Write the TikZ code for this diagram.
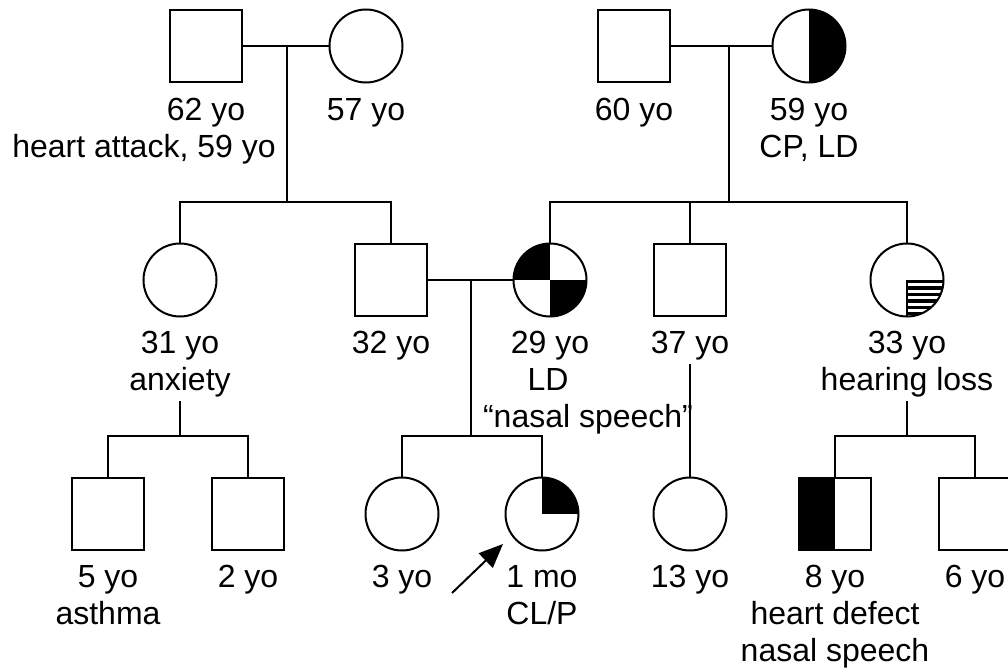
\documentclass[tikz,border=0pt]{standalone}
\usepackage{fontspec}
\setmainfont{Liberation Sans}
\usetikzlibrary{arrows.meta, positioning}

\begin{document}
\begin{tikzpicture}[
  x=0.5pt, y=-0.5pt,
  line width=1pt,
  font=\fontsize{16}{18.5}\selectfont,
  male/.style={draw, minimum size=36pt, inner sep=0pt, fill=white},
  female/.style={draw, circle, minimum size=36.5pt, inner sep=0pt, fill=white},
  txt/.style={anchor=base, inner sep=1pt, text height=12pt, text depth=4pt},
  arr/.style={-{Triangle[length=12pt, width=10pt]}, line width=1pt},
  halfright/.style={path picture={\fill[black] (path picture bounding box.north) rectangle (path picture bounding box.south east);}},
  halfleft/.style={path picture={\fill[black] (path picture bounding box.north) rectangle (path picture bounding box.south west);}},
  crossquad/.style={path picture={
    \fill[black] (path picture bounding box.center) rectangle (path picture bounding box.north west);
    \fill[black] (path picture bounding box.center) rectangle (path picture bounding box.south east);}},
  quadne/.style={path picture={\fill[black] (path picture bounding box.center) rectangle (path picture bounding box.north east);}},
  stripese/.style={path picture={
    \foreach \k in {0,...,5}
      \fill[black] ([yshift=-\k*3.2pt]path picture bounding box.center) rectangle ++(20pt,-1.7pt);
    \draw (path picture bounding box.center) -- (path picture bounding box.center |- path picture bounding box.south);}}
]
\useasboundingbox (0,0) rectangle (1008,669);

% Row 1: grandparents
\node[male] (m62) at (206,46) {};
\node[female] (f57) at (366,46) {};
\node[male] (m60) at (634,46) {};
\node[female, halfright] (f59) at (809,46) {};

\node[txt] (t62)  at (206,120) {62 yo};
\node[txt] (t62b) at (144,157) {heart attack, 59 yo};
\node[txt] (t57)  at (366,120) {57 yo};
\node[txt] (t60)  at (634,120) {60 yo};
\node[txt] (t59)  at (809,120) {59 yo};
\node[txt] (t59b) at (809,157) {CP, LD};

% Row 2: parents and their siblings
\node[female] (f31) at (180,280) {};
\node[male] (m32) at (391,280) {};
\node[female, crossquad] (f29) at (550,280) {};
\node[male] (m37) at (690,280) {};
\node[female, stripese] (f33) at (907,280) {};

\node[txt] (t31)  at (180,353) {31 yo};
\node[txt] (t31b) at (180,390) {anxiety};
\node[txt] (t32)  at (391,353) {32 yo};
\node[txt] (t29)  at (550,353) {29 yo};
\node[txt] (t29b) at (548,390) {LD};
\node[txt] (t29c) at (588,427) {“nasal speech”};
\node[txt] (t37)  at (690,353) {37 yo};
\node[txt] (t33)  at (907,353) {33 yo};
\node[txt] (t33b) at (907,390) {hearing loss};

% Row 3: children
\node[male] (m5) at (108,514) {};
\node[male] (m2) at (248,514) {};
\node[female] (f3) at (402,514) {};
\node[female, quadne] (f1) at (542,514) {};
\node[female] (f13) at (690,514) {};
\node[male, halfleft] (m8) at (835,514) {};
\node[male] (m6) at (975,514) {};

\node[txt] (t5)  at (108,587) {5 yo};
\node[txt] (t5b) at (108,624) {asthma};
\node[txt] (t2)  at (248,587) {2 yo};
\node[txt] (t3)  at (402,587) {3 yo};
\node[txt] (t1)  at (542,587) {1 mo};
\node[txt] (t1b) at (542,624) {CL/P};
\node[txt] (t13) at (690,587) {13 yo};
\node[txt] (t8)  at (835,587) {8 yo};
\node[txt] (t8b) at (835,624) {heart defect};
\node[txt] (t8c) at (835,661) {nasal speech};
\node[txt] (t6)  at (975,587) {6 yo};

% Couples and sibships
\coordinate (k1) at (287,46);  \coordinate (s1) at (287,202);
\coordinate (k2) at (729,46);  \coordinate (s2) at (729,202);
\coordinate (k3) at (471,280); \coordinate (s3) at (471,436);
\coordinate (s4) at (180,436);
\coordinate (s5) at (907,436);

\draw (m62) -- (f57);
\draw (k1) -- (s1);
\draw (f31) |- (s1) -| (m32);

\draw (m60) -- (f59);
\draw (k2) -- (s2);
\draw (f29) |- (s2) -| (f33);
\draw (m37) -- (m37 |- s2);

\draw (m32) -- (f29);
\draw (k3) -- (s3);
\draw (f3) |- (s3) -| (f1);

\draw (t31b.south) -- (s4);
\draw (m5) |- (s4) -| (m2);

\draw (t37.south) -- (f13);

\draw (t33b.south) -- (s5);
\draw (m8) |- (s5) -| (m6);

% Proband
\coordinate (pa) at (452,593);
\coordinate (pb) at (503,544);
\draw[arr] (pa) -- (pb);

\end{tikzpicture}
\end{document}
